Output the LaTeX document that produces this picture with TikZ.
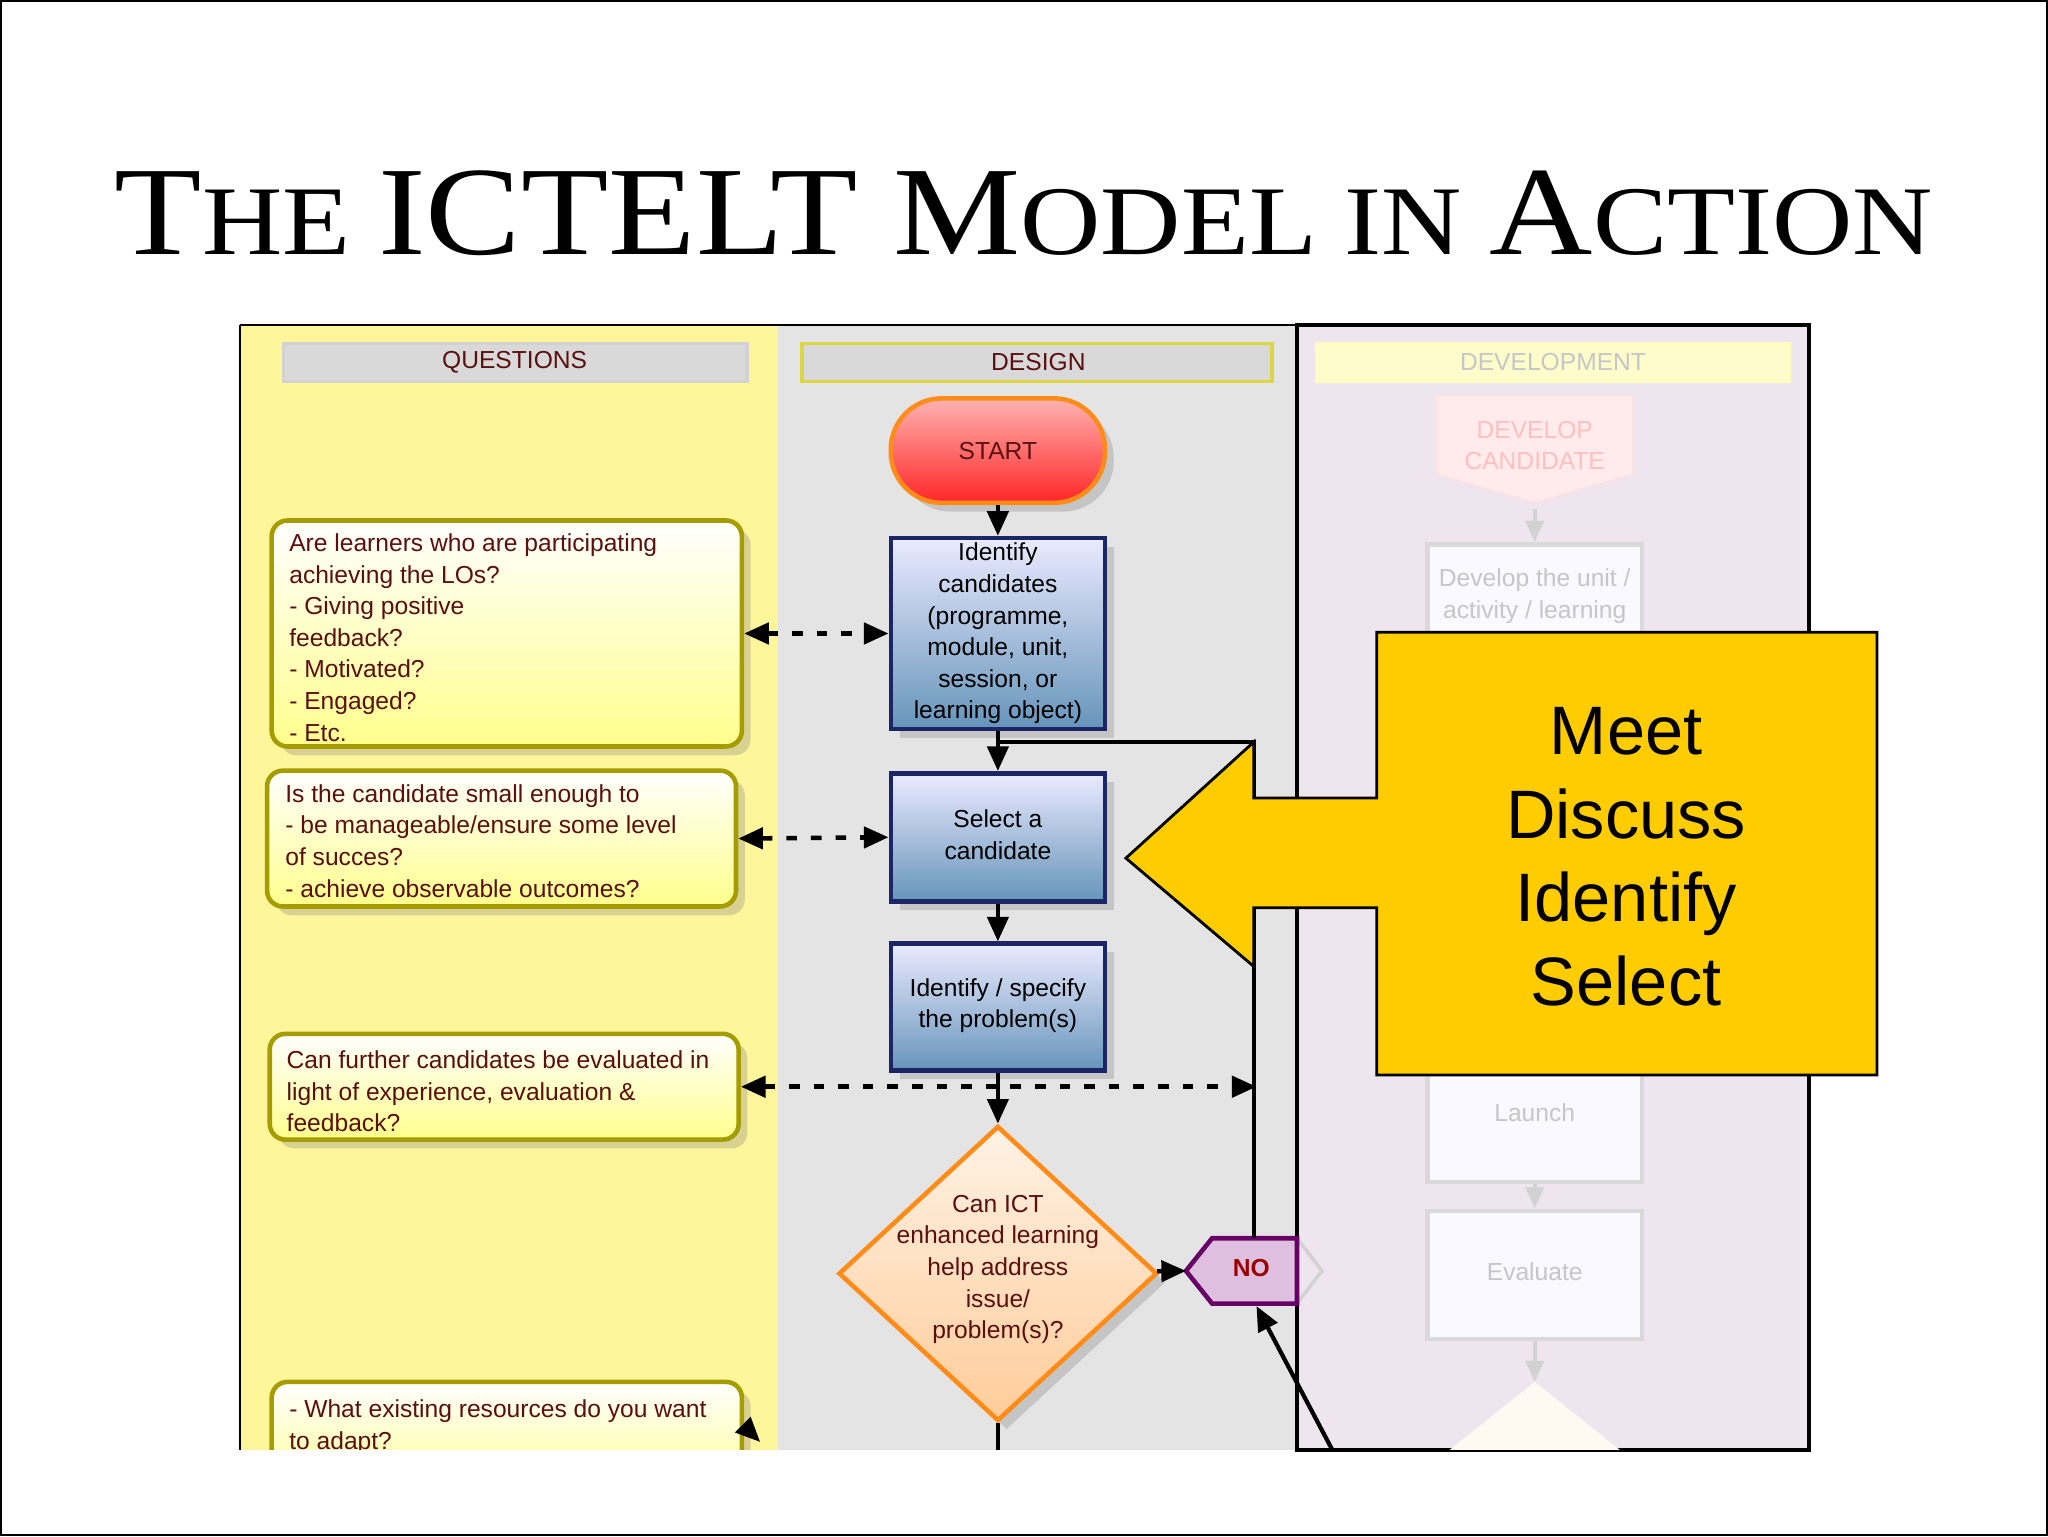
\documentclass[tikz,border=0pt]{standalone}
\usepackage{fontspec}
\setmainfont{Liberation Sans}
\newfontfamily\titlefont{Liberation Serif}
\usetikzlibrary{arrows.meta,shapes.geometric,shadows}
\definecolor{qyel}{HTML}{FFF59A}
\definecolor{dgrey}{HTML}{E4E4E4}
\definecolor{dlav}{HTML}{EEE5EF}
\definecolor{callout}{HTML}{FFCC00}
\definecolor{qtext}{HTML}{5A1010}
\definecolor{navy}{HTML}{1C2566}
\newlength\pxu \setlength\pxu{0.1306mm}
\newcommand\sct[2]{{\fontsize{36}{40}\selectfont #1}{\fontsize{28}{30}\selectfont #2}}
\begin{document}
\begin{tikzpicture}[x=0.1306mm,y=-0.1306mm,
  shad/.style={drop shadow={shadow xshift=2.5pt,shadow yshift=-2.5pt,opacity=.3}},
  qbox/.style={draw=olive!80!yellow,line width=1.3pt,rounded corners=4.5pt,top color=white,bottom color=yellow!45,shad,inner sep=0},
  qtxt/.style={text=qtext,font=\fontsize{7}{9}\selectfont,align=left,anchor=north west},
  bbox/.style={draw=navy,line width=1.3pt,top color=blue!8,bottom color=blue!45!cyan!55!black!60,shad},
  btxt/.style={font=\fontsize{7}{9}\selectfont,align=center,text=black},
  sarr/.style={-{Triangle[length=7pt,width=6pt]},line width=1.2pt},
  darr/.style={{Triangle[length=7pt,width=6pt]}-{Triangle[length=7pt,width=6pt]},line width=1.3pt,dash pattern=on 3pt off 4pt},
  faint/.style={draw=gray!30,line width=1.3pt,fill=white!70!blue!8},
  ftxt/.style={font=\fontsize{7}{9}\selectfont,align=center,text=gray!45}]
\useasboundingbox (0,0) rectangle (1568,1176);
\draw[line width=0.6pt] (1,1) rectangle (1567,1175);
\node[xscale=1.13] (title) at (784,163) {\titlefont\fontsize{28}{30}\selectfont\sct{T}{HE}\ \sct{ICTELT M}{ODEL IN}\ \sct{A}{CTION}};
% columns
\fill[qyel] (184,249) rectangle (596,1110);
\fill[dgrey] (596,249) rectangle (993,1110);
\fill[dlav] (993,249) rectangle (1385,1110);
\draw[line width=0.6pt] (184,249) -- (993,249);
\draw[line width=0.6pt] (184,249) -- (184,1110);
\draw[line width=1pt] (993,249) rectangle (1385,1110);
% headers
\draw[fill=gray!30,draw=gray!35,line width=1pt] (217,263) rectangle (572,292);
\node[text=qtext,font=\fontsize{7}{9}\selectfont] (hq) at (394,277) {QUESTIONS};
\draw[fill=gray!30,draw=yellow!70!gray,line width=1pt] (614,263) rectangle (974,292);
\node[text=qtext,font=\fontsize{7}{9}\selectfont] (hd) at (795,277) {DESIGN};
\draw[draw=yellow!25,fill=white!80!yellow,line width=1pt] (1008,263) rectangle (1370,292);
\node[text=gray!45,font=\fontsize{7}{9}\selectfont] (hv) at (1189,277) {DEVELOPMENT};
% development (faded)
\fill[red!8,draw=red!12] (1100,303) -- (1250,303) -- (1250,363) -- (1175,385) -- (1100,363) -- cycle;
\node[font=\fontsize{7}{9}\selectfont,text=red!25,align=center] (dc) at (1175,341) {DEVELOP\\CANDIDATE};
\coordinate (dcb) at (1175,390);
\node[faint,minimum width=164*\pxu,minimum height=110*\pxu,anchor=north] (dev) at (1175,415) {};
\node[ftxt,anchor=north] at (1175,426) {Develop the unit /\\activity / learning};
\node[faint,minimum width=164*\pxu,minimum height=100*\pxu] (lau) at (1175,855) {};
\node[ftxt] at (1175,852) {Launch};
\node[faint,minimum width=164*\pxu,minimum height=98*\pxu] (eva) at (1175,976) {};
\node[ftxt] at (1175,974) {Evaluate};
\fill[orange!5] (1110,1110) -- (1175,1058) -- (1240,1110) -- cycle;
\coordinate (tri) at (1175,1058);
\draw[-{Triangle[length=6pt,width=5pt]},gray!35,line width=1.2pt] (dcb) -- (dev);
\draw[-{Triangle[length=6pt,width=5pt]},gray!35,line width=1.2pt] (lau) -- (eva);
\draw[-{Triangle[length=6pt,width=5pt]},gray!35,line width=1.2pt] (eva) -- (tri);
\draw[gray!35,line width=1pt] (993,948) -- (1012,973) -- (993,998);
% design column
\node[draw=orange!90,line width=1.3pt,rounded corners=14.5pt,top color=red!30,bottom color=red!85,minimum width=164*\pxu,minimum height=80*\pxu,text=qtext,font=\fontsize{7}{9}\selectfont,shad] (start) at (764,345) {START};
\node[bbox,minimum width=164*\pxu,minimum height=146*\pxu] (idc) at (764,485) {};
\node[btxt] at (764,485) {Identify\\candidates\\(programme,\\module, unit,\\session, or\\learning object)};
\node[bbox,minimum width=164*\pxu,minimum height=98*\pxu] (sel) at (764,641) {};
\node[btxt] at (764,639) {Select a\\candidate};
\node[bbox,minimum width=164*\pxu,minimum height=97*\pxu] (spec) at (764,771) {};
\node[btxt] at (764,770) {Identify / specify\\the problem(s)};
\node[diamond,draw=orange!90,line width=1.3pt,top color=orange!10,bottom color=orange!40,minimum width=244*\pxu,minimum height=226*\pxu,inner sep=0,shad] (dia) at (764,975) {};
\node[btxt,text=qtext] at (764,972) {Can ICT\\enhanced learning\\help address\\issue/\\problem(s)?};
\draw[draw=violet!80!black,line width=1.3pt,fill=violet!25] (908,973) -- (928,948) -- (993,948) -- (993,998) -- (928,998) -- cycle;
\coordinate (nol) at (908,973);
\coordinate (not) at (960,948);
\coordinate (nob) at (962,1000);
\node[text=red!60!black,font=\bfseries\fontsize{7}{9}\selectfont] (no) at (958,971) {NO};
\coordinate (bot) at (764,1110);
\coordinate (nbl) at (1020,1110);
\coordinate (c1) at (764,568);
\coordinate (c2) at (960,568);
\draw[sarr] (start) -- (idc);
\draw[sarr] (idc) -- (sel);
\draw[sarr] (sel) -- (spec);
\draw[sarr] (spec) -- (dia);
\draw[sarr] (dia) -- (nol);
\draw[line width=1.2pt] (dia.south) -- (bot);
\draw[line width=1.2pt] (not) -- (c2) -- (c1);
\draw[sarr] (nbl) -- (nob);
% questions
\node[qbox,minimum width=360*\pxu,minimum height=173*\pxu] (q1) at (388,485) {};
\node[qtxt] at (212,399) {Are learners who are participating\\achieving the LOs?\\- Giving positive\\feedback?\\- Motivated?\\- Engaged?\\- Etc.};
\node[qbox,minimum width=359*\pxu,minimum height=104*\pxu] (q2) at (384,642) {};
\node[qtxt] at (209,591) {Is the candidate small enough to\\- be manageable/ensure some level\\of succes?\\- achieve observable outcomes?};
\node[qbox,minimum width=359*\pxu,minimum height=81*\pxu] (q3) at (386,832) {};
\node[qtxt] at (210,795) {Can further candidates be evaluated in\\light of experience, evaluation \&\\feedback?};
\begin{scope}
\clip (184,1040) rectangle (596,1110);
\node[qbox,minimum width=360*\pxu,minimum height=90*\pxu] (q4) at (388,1103) {};
\node[qtxt] at (212,1062) {- What existing resources do you want\\to adapt?};
\end{scope}
\coordinate (q4a) at (570,1092);
\coordinate (q4r) at (582,1104);
\draw[sarr] (q4a) -- (q4r);
\coordinate (q3e) at (962,832);
\draw[darr] (q1.east) -- (idc.west);
\draw[darr] (q2.east) -- (sel.west);
\draw[darr] (q3.east) -- (q3e);
% callout
\draw[fill=callout,line width=0.8pt] (1054,484) -- (1437,484) -- (1437,823) -- (1054,823) -- (1054,695) -- (960,695) -- (960,740) -- (862,657) -- (960,568) -- (960,611) -- (1054,611) -- cycle;
\node[font=\fontsize{19.5}{23.8}\selectfont,align=center] (cl) at (1245,656) {Meet\\Discuss\\Identify\\Select};
\end{tikzpicture}
\end{document}
